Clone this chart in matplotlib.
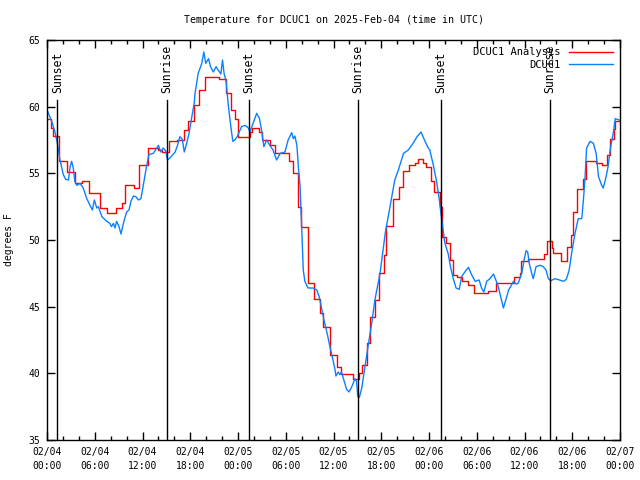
#!/usr/bin/env python3
"""Temperature for DCUC1 on 2025-Feb-04: analysis vs observed, with sunrise/sunset markers."""
import numpy as np
import matplotlib
matplotlib.use("Agg")
import matplotlib.pyplot as plt
import matplotlib.dates as mdates

# hours since 2025-02-04 00:00 UTC
start = np.datetime64("2025-02-04T00:00")

# DCUC1 Analysis (step-like, red)
ana_h = [0.0, 0.5, 0.7, 1.5, 2.5, 3.5, 4.4, 5.3, 6.6, 7.5, 8.7, 9.4, 9.8, 10.9,
         11.6, 12.7, 14.0, 14.5, 15.3, 16.3, 17.2, 17.7, 18.5, 19.1, 19.9, 21.6,
         22.5, 23.1, 23.6, 24.0, 25.5, 25.8, 26.6, 27.0, 28.0, 28.6, 30.4, 30.9,
         31.5, 31.9, 32.8, 33.6, 34.3, 34.7, 35.5, 36.4, 36.9, 38.4, 39.2, 39.6,
         40.2, 40.6, 41.2, 41.7, 42.3, 42.6, 43.5, 44.2, 44.7, 45.5, 46.3, 46.6,
         47.2, 47.6, 48.2, 48.6, 49.4, 49.6, 50.1, 50.6, 51.0, 51.5, 52.1, 52.9,
         53.6, 55.4, 56.4, 58.2, 58.7, 59.4, 59.6, 60.4, 62.5, 62.8, 63.4, 63.6,
         64.6, 65.4, 65.8, 66.1, 66.6, 67.3, 67.7, 69.0, 69.8, 70.4, 70.7, 71.2,
         71.4, 72.0]
ana_v = [59.1, 58.4, 57.8, 55.9, 55.1, 54.3, 54.4, 53.5, 52.4, 52.0, 52.4, 52.75,
         54.1, 53.9, 55.6, 56.9, 56.75, 56.6, 57.4, 57.5, 58.25, 58.9, 60.1, 61.25,
         62.2, 62.05, 61.0, 59.75, 59.1, 57.75, 58.1, 58.4, 58.1, 57.5, 57.1, 56.55,
         55.9, 55.0, 52.5, 51.0, 46.75, 45.55, 44.5, 43.5, 41.4, 40.5, 39.95, 39.55,
         40.0, 40.6, 42.25, 44.25, 45.5, 47.5, 48.9, 51.05, 53.05, 54.0, 55.2, 55.6,
         55.75, 56.05, 55.8, 55.5, 54.4, 53.6, 52.5, 50.25, 49.75, 48.5, 47.4, 47.25,
         46.9, 46.6, 46.05, 46.2, 46.8, 46.75, 47.25, 47.5, 48.45, 48.6, 48.95, 49.9,
         49.4, 49.0, 48.4, 49.5, 50.4, 52.1, 53.8, 54.6, 55.9, 55.75, 55.6, 56.4,
         57.6, 58.3, 58.9, 58.9]

# DCUC1 observed (blue)
obs_h = [0.0, 0.6, 1.0, 1.3, 1.6, 2.05, 2.35, 2.7, 2.9, 3.1, 3.3, 3.5, 3.75, 4.15,
         4.55, 5.0, 5.4, 5.7, 5.95, 6.25, 6.45, 6.9, 7.5, 7.9, 8.1, 8.35, 8.55,
         8.75, 9.05, 9.3, 9.6, 10.0, 10.3, 10.55, 10.85, 11.15, 11.5, 11.8, 12.1,
         12.5, 12.8, 13.35, 13.8, 14.0, 14.3, 14.6, 14.9, 15.15, 15.6, 16.1, 16.4,
         16.7, 17.0, 17.25, 17.55, 17.85, 18.2, 18.5, 18.6, 19.0, 19.45, 19.7,
         19.95, 20.3, 20.55, 20.9, 21.25, 21.5, 21.85, 22.05, 22.25, 22.5, 22.8,
         23.1, 23.35, 23.6, 23.9, 24.45, 24.9, 25.3, 25.5, 25.9, 26.35, 26.7, 27.0,
         27.25, 27.6, 28.0, 28.4, 28.85, 29.3, 29.9, 30.3, 30.75, 30.95, 31.15,
         31.4, 31.6, 31.8, 32.0, 32.2, 32.4, 32.8, 33.45, 33.9, 34.2, 34.5, 34.8,
         35.2, 35.55, 35.9, 36.2, 36.3, 36.6, 36.8, 37.0, 37.3, 37.65, 37.95, 38.3,
         38.7, 38.9, 39.05, 39.25, 39.55, 39.95, 40.4, 40.8, 41.2, 41.65, 41.85,
         42.5, 43.1, 43.7, 44.15, 44.8, 45.4, 46.0, 46.5, 47.0, 47.5, 47.9, 48.1,
         48.55, 48.95, 49.3, 49.6, 50.0, 50.4, 50.7, 51.05, 51.4, 51.8, 52.1, 52.5,
         52.95, 53.35, 53.8, 54.3, 54.6, 54.9, 55.25, 55.65, 56.1, 56.4, 56.7, 57.0,
         57.35, 57.7, 58.0, 58.25, 58.6, 58.95, 59.2, 59.65, 59.95, 60.2, 60.4,
         60.6, 60.9, 61.1, 61.45, 61.95, 62.35, 62.7, 63.0, 63.3, 63.85, 64.4,
         64.9, 65.25, 65.6, 65.95, 66.35, 66.75, 67.2, 67.4, 67.6, 67.8, 68.25,
         68.65, 69.0, 69.3, 69.7, 69.9, 70.25, 70.5, 70.8, 71.15, 71.4, 71.9]
obs_v = [59.75, 58.9, 58.1, 57.25, 56.1, 54.9, 54.55, 54.5, 55.5, 55.9, 55.4, 54.4,
         54.1, 54.25, 53.9, 53.1, 52.6, 52.25, 53.0, 52.4, 52.5, 51.75, 51.4, 51.25,
         51.0, 51.25, 50.9, 51.4, 51.0, 50.45, 51.25, 52.1, 52.25, 52.9, 53.3, 53.25,
         53.0, 53.1, 54.1, 55.5, 56.4, 56.5, 56.9, 57.1, 56.6, 56.9, 56.7, 56.0,
         56.25, 56.6, 57.1, 57.75, 57.55, 56.6, 57.25, 58.0, 59.25, 60.25, 61.0,
         62.5, 63.25, 64.1, 63.25, 63.6, 63.0, 62.6, 63.0, 62.75, 62.45, 63.5, 62.5,
         61.9, 60.0, 58.5, 57.4, 57.5, 57.75, 58.5, 58.6, 58.4, 58.1, 58.75, 59.5,
         59.1, 58.1, 57.0, 57.5, 57.1, 56.75, 56.0, 56.5, 56.6, 57.5, 58.05, 57.6,
         57.8, 57.1, 55.4, 54.0, 51.0, 47.75, 46.9, 46.4, 46.4, 46.25, 45.75, 44.9,
         44.0, 43.0, 42.0, 41.1, 40.25, 39.8, 40.1, 39.9, 40.1, 39.5, 38.8, 38.6,
         39.0, 39.6, 39.4, 38.25, 38.2, 38.9, 40.5, 42.25, 43.75, 45.5, 46.9, 47.5,
         50.5, 52.5, 54.5, 55.25, 56.5, 56.75, 57.25, 57.75, 58.1, 57.4, 56.9, 56.75,
         55.6, 54.4, 53.0, 51.5, 49.75, 49.0, 48.0, 47.1, 46.4, 46.3, 47.25, 47.6,
         47.95, 47.4, 46.9, 47.0, 46.4, 46.1, 46.9, 47.1, 47.45, 47.0, 46.5, 45.75,
         44.9, 45.6, 46.25, 46.5, 46.9, 46.7, 46.75, 47.5, 48.5, 49.2, 49.1, 48.25,
         47.5, 47.1, 48.0, 48.1, 48.0, 47.75, 47.1, 46.95, 47.1, 47.0, 46.9, 47.05,
         47.7, 49.1, 50.5, 51.6, 51.6, 53.0, 54.6, 56.9, 57.4, 57.25, 56.5, 54.75,
         54.1, 53.9, 54.75, 55.5, 56.9, 58.0, 59.1, 59.0]

# sun events (hours since start)
sun_h = [1.3, 15.1, 25.4, 39.1, 49.5, 63.2]
sun_lbl = ["Sunset", "Sunrise", "Sunset", "Sunrise", "Sunset", "Sunrise"]


def to_time(hours):
    return start + (np.asarray(hours) * 3600).astype("timedelta64[s]")


plt.rcParams["font.family"] = ["DejaVu Sans Mono"]
plt.rcParams["font.size"] = 7

fig = plt.figure(figsize=(6.4, 4.8), dpi=100)
ax = fig.add_axes([47 / 640, 40 / 480, 573 / 640, 400 / 480])

ax.plot(to_time(ana_h), ana_v, color="#ff0000", lw=1.0, drawstyle="steps-post",
        label="DCUC1 Analysis")
ax.plot(to_time(obs_h), obs_v, color="#0a80ff", lw=1.0, label="DCUC1")

for h, lbl in zip(sun_h, sun_lbl):
    t = to_time([h])[0]
    ax.plot([t, t], [35, 60.5], color="black", lw=1.0)
    ax.text(t, 61.0, lbl, rotation=90, ha="center", va="bottom", fontsize=8.3)

ax.set_xlim(to_time([0])[0], to_time([72])[0])
ax.set_ylim(35, 65)
ax.set_yticks(np.arange(35, 66, 5))

ax.xaxis.set_major_locator(mdates.HourLocator(byhour=[0, 6, 12, 18]))
ax.xaxis.set_minor_locator(mdates.HourLocator(interval=2))
ax.xaxis.set_major_formatter(mdates.DateFormatter("%m/%d\n%H:%M"))
for lab in ax.get_xticklabels():
    lab.set_linespacing(1.45)

ax.tick_params(which="both", direction="in", top=True, right=True, width=1.0)
ax.tick_params(which="major", length=6)
ax.tick_params(which="minor", length=3)
ax.tick_params(axis="x", pad=5)
ax.tick_params(axis="y", pad=5)
for s in ax.spines.values():
    s.set_linewidth(1.0)

ax.set_ylabel("degrees F", labelpad=10)
ax.set_title("Temperature for DCUC1 on 2025-Feb-04 (time in UTC)", fontsize=7.2, pad=12)

ax.legend(loc="upper right", frameon=False, markerfirst=False, handlelength=4.2,
          handletextpad=0.8, labelspacing=0.25, borderaxespad=0.3, fontsize=7.5)

fig.savefig("out.png", dpi=100)
